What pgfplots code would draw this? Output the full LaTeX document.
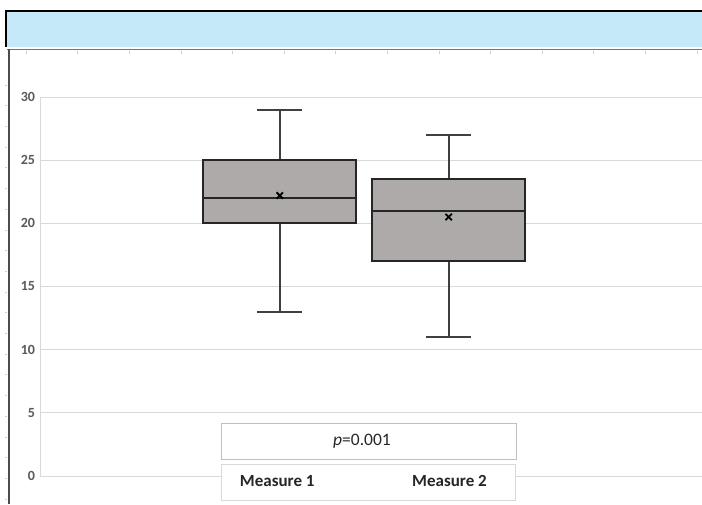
\documentclass[border=0pt]{standalone}
\usepackage{pgfplots}
\pgfplotsset{compat=1.18}
\usepgfplotslibrary{statistics}
\usepackage{fontspec}
\setmainfont{Carlito}
\definecolor{banner}{HTML}{C6E9F9}
\definecolor{boxfill}{HTML}{AEAAAA}
\definecolor{gridc}{HTML}{D9D9D9}
\definecolor{tickc}{HTML}{595959}
\definecolor{framec}{HTML}{BFBFBF}
\begin{document}
\begin{tikzpicture}
\useasboundingbox (0pt,0pt) rectangle (702pt,504pt);
\begin{scope}[x=1pt,y=1pt]
% banner and frame (pixel y -> 504 - y)
\fill[banner] (6,492) rectangle (702,457);
\draw[black, line width=2pt] (6,457) -- (6,493) -- (702,493);
\draw[black!55, line width=1.5pt] (7,454.5) -- (702,454.5);
\draw[black!70, line width=2pt] (9,455) -- (9,0);
\foreach \i in {0,...,13} {\draw[black!20, line width=0.6pt] (26+51.6*\i,453) -- (26+51.6*\i,450);}
\foreach \i in {0,...,20} {\draw[black!20, line width=0.6pt] (5,419-20.7*\i) -- (7,419-20.7*\i);}
% annotation boxes
\draw[framec, fill=white, line width=0.8pt] (221,81) rectangle (516,45);
\draw[gridc, fill=white, line width=0.8pt] (221,40) rectangle (515,4);
\end{scope}
\begin{axis}[
  at={(40pt,28pt)}, anchor=south west,
  scale only axis, width=662pt, height=379pt,
  xmin=-0.42, xmax=3.5, ymin=0, ymax=30,
  ytick={5,10,...,30},
  extra y ticks={0}, extra y tick style={grid=none},
  xtick={0.985,2.005}, xticklabels={Measure 1, Measure 2},
  major tick length=0pt,
  ymajorgrids, grid style={gridc, line width=1pt},
  axis lines*=left,
  x axis line style={draw=none},
  y axis line style={-, draw=gridc, line width=1pt},
  /pgf/number format/assume math mode=true,
  yticklabel style={font=\bfseries\fontsize{14}{16}\selectfont, text=tickc, xshift=-1.5pt},
  xticklabel style={font=\bfseries\fontsize{17}{19}\selectfont, text=black!85, anchor=center, yshift=-5pt},
  clip=false,
  boxplot/draw direction=y,
  boxplot/every whisker/.style={line width=2pt, draw=black!75},
  boxplot/every median/.style={line width=2pt, draw=black!85},
  boxplot/every box/.style={line width=2pt, draw=black!85, fill=boxfill},
]
\draw[gridc, line width=1pt] (axis cs:-0.42,0) -- (axis cs:0.650,0);
\draw[gridc, line width=1pt] (axis cs:2.392,0) -- (axis cs:3.5,0);
\node[text=black!85] at (axis cs:1.487,2.77) {\fontsize{17.5}{19}\selectfont\textit{p}=0.001};
\addplot[boxplot prepared={draw position=1, lower whisker=13, lower quartile=20, median=22, upper quartile=25, upper whisker=29, box extend=0.906, whisker extend=0.267}, draw=black!85] coordinates {};
\addplot[boxplot prepared={draw position=2, lower whisker=11, lower quartile=17, median=21, upper quartile=23.5, upper whisker=27, box extend=0.906, whisker extend=0.267}, draw=black!85] coordinates {};
\addplot[only marks, mark=x, mark size=4.5pt, line width=1.8pt, black] coordinates {(1,22.2) (2,20.5)};
\end{axis}
\end{tikzpicture}
\end{document}
